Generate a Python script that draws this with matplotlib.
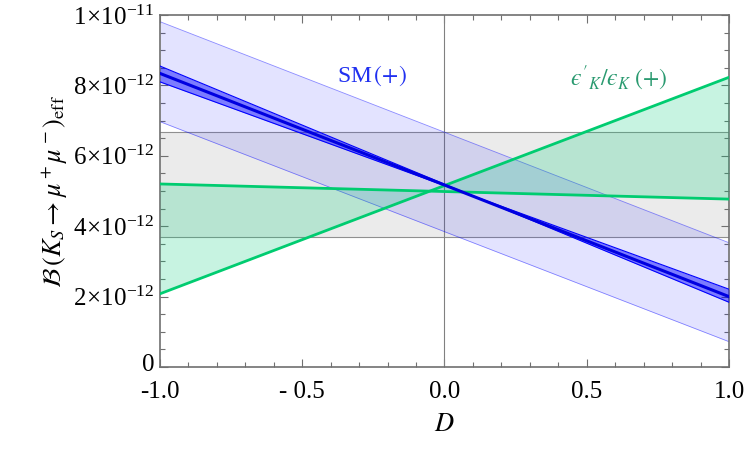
import matplotlib
matplotlib.use("Agg")
import matplotlib.pyplot as plt
from matplotlib.ticker import MultipleLocator, FixedLocator
from matplotlib.transforms import ScaledTranslation

plt.rcParams['font.family'] = ['Liberation Serif', 'DejaVu Serif']
plt.rcParams['mathtext.fontset'] = 'stix'

# ---------------- data ----------------
D_ends = [-1.0, 1.0]
exp_band = [3.69e-12, 6.68e-12]           # grey horizontal band
sm_band_hi = [9.81e-12, 3.53e-12]         # light blue band, upper edge
sm_band_lo = [6.97e-12, 0.72e-12]         # light blue band, lower edge
sm_inner_a = [8.55e-12, 1.84e-12]         # narrow dark band edge
sm_inner_b = [8.10e-12, 2.21e-12]         # narrow dark band edge
sm_central = [8.34e-12, 2.00e-12]         # central SM line
eps_line1 = [5.20e-12, 4.77e-12]          # eps'/eps line, nearly flat
eps_line2 = [2.08e-12, 8.23e-12]          # eps'/eps line, rising

yticks = [0, 2e-12, 4e-12, 6e-12, 8e-12, 1e-11]
yticklabels = ['0', r'$\mathregular{2\!\times\!10^{-12}}$', r'$\mathregular{4\!\times\!10^{-12}}$',
               r'$\mathregular{6\!\times\!10^{-12}}$', r'$\mathregular{8\!\times\!10^{-12}}$',
               r'$\mathregular{1\!\times\!10^{-11}}$']
xticks = [-1.0, -0.5, 0.0, 0.5, 1.0]
xticklabels = ['-1.0', '- 0.5', '0.0', '0.5', '1.0']

blue = '#0000ff'
green = '#00cc70'

fig = plt.figure(figsize=(7.5, 4.5), dpi=100)
ax = fig.add_axes([0.2133, 0.1844, 0.7587, 0.7823])

# grey experimental band
ax.axhspan(exp_band[0], exp_band[1], color='#e8e8e8', alpha=0.85, lw=0, zorder=1)
for yb in exp_band:
    ax.axhline(yb, color='#909090', lw=0.8, zorder=1.5)

# vertical line at D = 0
ax.axvline(0, color='#808080', lw=0.8, zorder=1.6)

# SM wide band
ax.fill_between(D_ends, sm_band_lo, sm_band_hi, color=blue, alpha=0.11, lw=0, zorder=2)
ax.plot(D_ends, sm_band_hi, color=blue, lw=0.6, alpha=0.45, zorder=2.1)
ax.plot(D_ends, sm_band_lo, color=blue, lw=0.6, alpha=0.45, zorder=2.1)

# eps'/eps region
ax.fill_between(D_ends, eps_line1, eps_line2, color='#00cc78', alpha=0.22, lw=0, zorder=3)
ax.plot(D_ends, eps_line1, color=green, lw=2, zorder=4)
ax.plot(D_ends, eps_line2, color=green, lw=2, zorder=4)

# SM narrow band and central line
ax.fill_between(D_ends, sm_inner_a, sm_inner_b, color=blue, alpha=0.45, lw=0, zorder=5)
ax.plot(D_ends, sm_inner_a, color=blue, lw=0.8, zorder=5.1)
ax.plot(D_ends, sm_inner_b, color=blue, lw=0.8, zorder=5.1)
ax.plot(D_ends, sm_central, color='#0000e0', lw=2.2, zorder=5.2)

ax.text(-0.378, 8.27e-12, r'SM$\,(+)$', color='#2030f0', fontsize=17,
        ha='left', va='center')
ax.text(0.441, 8.2e-12, "$\u03f5'_{K}/\u03f5_{K}\\;(+)$", color='#2a9a70',
        fontsize=17, ha='left', va='center')

ax.set_xlim(-1, 1)
ax.set_ylim(0, 1e-11)
ax.yaxis.set_major_locator(FixedLocator(yticks))
ax.set_yticklabels(yticklabels)
ax.yaxis.set_minor_locator(MultipleLocator(0.5e-12))
ax.xaxis.set_major_locator(FixedLocator(xticks))
ax.set_xticklabels(xticklabels)
ax.xaxis.set_minor_locator(MultipleLocator(0.1))

ax.tick_params(which='both', direction='in', top=True, right=True,
               color='#707070', labelsize=18)
ax.tick_params(axis='x', pad=10)
ax.tick_params(axis='y', pad=4)
ax.tick_params(which='major', length=6, width=0.8)
ax.tick_params(which='minor', length=3.5, width=0.8)
for sp in ax.spines.values():
    sp.set_color('#707070')
    sp.set_linewidth(1.2)

# nudge the "0" label up a little so it clears "-1.0"
zero_lbl = ax.get_yticklabels()[0]
zero_lbl.set_transform(zero_lbl.get_transform() + ScaledTranslation(0, 3 / 72, fig.dpi_scale_trans))

ax.set_xlabel(r'$D$', fontsize=19, labelpad=8)
ax.set_ylabel(r'$\mathcal{B}\,(K_S\to\mu^+\mu^-)_{\rm eff}$', fontsize=19, labelpad=2)

fig.savefig('out.png', dpi=100)
